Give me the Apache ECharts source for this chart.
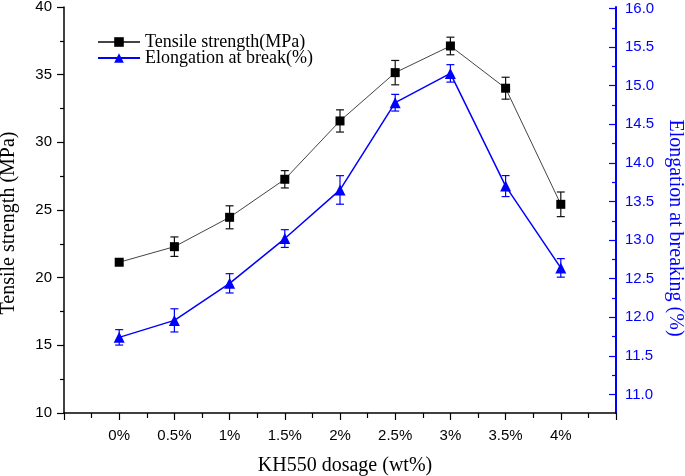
<!DOCTYPE html>
<html>
<head>
<meta charset="utf-8">
<script src="https://cdn.jsdelivr.net/npm/echarts@6/dist/echarts.min.js"></script>
<style>
html,body{margin:0;padding:0;background:#fff;}
#chart{width:685px;height:476px;}
</style>
</head>
<body>
<div id="chart"></div>
<script>
const categories = ['0%', '0.5%', '1%', '1.5%', '2%', '2.5%', '3%', '3.5%', '4%'];
const tensile = [21.14, 22.29, 24.46, 27.27, 31.58, 35.15, 37.12, 34.0, 25.42];
const tensileErr = [0.2, 0.72, 0.85, 0.64, 0.82, 0.9, 0.65, 0.81, 0.91];
const elongation = [11.74, 11.96, 12.44, 13.02, 13.65, 14.78, 15.16, 13.70, 12.64];
const elongationErr = [0.1, 0.15, 0.125, 0.115, 0.185, 0.108, 0.113, 0.136, 0.12];
const leftTicks = [10, 15, 20, 25, 30, 35, 40];
const rightTicks = [11, 11.5, 12, 12.5, 13, 13.5, 14, 14.5, 15, 15.5, 16];
const rightMinorTicks = [11.25, 11.75, 12.25, 12.75, 13.25, 13.75, 14.25, 14.75, 15.25, 15.75];

const SANS = 'Liberation Sans';
const SERIF = 'Liberation Serif';
const BLUE = '#0000ff';

const pts = (arr) => arr.map((v, i) => [i, v]);
const errs = (arr, e) => arr.map((v, i) => [i, v - e[i], v + e[i]]);

function errRender(color) {
  return function (params, api) {
    const x = api.value(0);
    const lo = api.coord([x, api.value(1)]);
    const hi = api.coord([x, api.value(2)]);
    const w = 4;
    const style = { stroke: color, lineWidth: 1.2 };
    return {
      type: 'group',
      children: [
        { type: 'line', shape: { x1: lo[0], y1: lo[1], x2: hi[0], y2: hi[1] }, style },
        { type: 'line', shape: { x1: lo[0] - w, y1: lo[1], x2: lo[0] + w, y2: lo[1] }, style },
        { type: 'line', shape: { x1: hi[0] - w, y1: hi[1], x2: hi[0] + w, y2: hi[1] }, style }
      ]
    };
  };
}

const chart = echarts.init(document.getElementById('chart'), null, { renderer: 'canvas' });
chart.setOption({
  animation: false,
  backgroundColor: '#fff',
  grid: { left: 64, right: 69, top: 7, bottom: 63, containLabel: false, outerBoundsMode: 'none' },
  legend: {
    orient: 'vertical',
    left: 92,
    top: 28,
    itemWidth: 42,
    itemHeight: 12,
    itemGap: -2,
    textStyle: { fontFamily: SERIF, fontSize: 18, lineHeight: 16, color: '#000' },
    data: ['Tensile strength(MPa)', 'Elongation at break(%)']
  },
  xAxis: {
    type: 'value',
    min: -1,
    max: 9,
    interval: 1,
    name: 'KH550 dosage (wt%)',
    nameLocation: 'middle',
    nameGap: 43,
    nameTextStyle: { fontFamily: SERIF, fontSize: 20, color: '#000', padding: [0, 0, 0, 10] },
    axisLine: { show: true, onZero: false, lineStyle: { color: '#000', width: 1.5 } },
    axisTick: { show: true, length: 7, lineStyle: { color: '#000', width: 1.2 } },
    minorTick: { show: true, splitNumber: 2, length: 5, lineStyle: { color: '#000', width: 1.2 } },
    splitLine: { show: false },
    axisLabel: {
      margin: 15,
      fontFamily: SANS, fontSize: 15, color: '#000',
      formatter: (v) => (categories[v] !== undefined ? categories[v] : '')
    }
  },
  yAxis: [
    {
      type: 'value',
      position: 'left',
      min: 10,
      max: 40,
      interval: 5,
      name: 'Tensile strength (MPa)',
      nameLocation: 'middle',
      nameGap: 45,
      nameTextStyle: { fontFamily: SERIF, fontSize: 20, color: '#000', padding: [0, 26, 0, 0] },
      axisLine: { show: true, onZero: false, lineStyle: { color: '#000', width: 1.5 } },
      axisTick: { show: true, length: 7, lineStyle: { color: '#000', width: 1.2 } },
      minorTick: { show: true, splitNumber: 2, length: 4, lineStyle: { color: '#000', width: 1.2 } },
      splitLine: { show: false },
      axisLabel: { margin: 12, fontFamily: SANS, fontSize: 15, color: '#000' }
    },
    {
      type: 'value',
      position: 'right',
      min: 10.76,
      max: 16.02,
      name: 'Elongation at breaking (%)',
      nameLocation: 'middle',
      nameRotate: -90,
      nameGap: 48,
      nameTextStyle: { fontFamily: SERIF, fontSize: 20, color: BLUE, padding: [0, 0, 0, 36] },
      axisLine: { show: true, onZero: false, lineStyle: { color: BLUE, width: 2 } },
      axisTick: { show: true, inside: true, length: 7, customValues: rightTicks, lineStyle: { color: BLUE, width: 1.2 } },
      splitLine: { show: false },
      axisLabel: {
        margin: 9, fontFamily: SANS, fontSize: 15, color: BLUE,
        customValues: rightTicks,
        formatter: (v) => Number(v).toFixed(1)
      }
    },
    {
      type: 'value',
      position: 'right',
      min: 10.76,
      max: 16.02,
      axisLine: { show: false, onZero: false },
      axisTick: { show: true, inside: true, length: 4, customValues: rightMinorTicks, lineStyle: { color: BLUE, width: 1.2 } },
      axisLabel: { show: false, customValues: rightMinorTicks },
      splitLine: { show: false }
    }
  ],
  series: [
    {
      type: 'custom',
      name: 'tensileErr',
      xAxisIndex: 0,
      yAxisIndex: 0,
      renderItem: errRender('#111'),
      data: errs(tensile, tensileErr),
      z: 1,
      silent: true
    },
    {
      type: 'custom',
      name: 'elongErr',
      xAxisIndex: 0,
      yAxisIndex: 1,
      renderItem: errRender(BLUE),
      data: errs(elongation, elongationErr),
      z: 1,
      silent: true
    },
    {
      type: 'line',
      name: 'Tensile strength(MPa)',
      yAxisIndex: 0,
      data: pts(tensile),
      symbol: 'rect',
      symbolSize: 9,
      lineStyle: { color: '#444', width: 1 },
      itemStyle: { color: '#000' },
      z: 3
    },
    {
      type: 'line',
      name: 'Elongation at break(%)',
      yAxisIndex: 1,
      data: pts(elongation),
      symbol: 'triangle',
      symbolSize: 11,
      lineStyle: { color: BLUE, width: 1.5 },
      itemStyle: { color: BLUE },
      z: 3
    }
  ]
});
</script>
</body>
</html>
